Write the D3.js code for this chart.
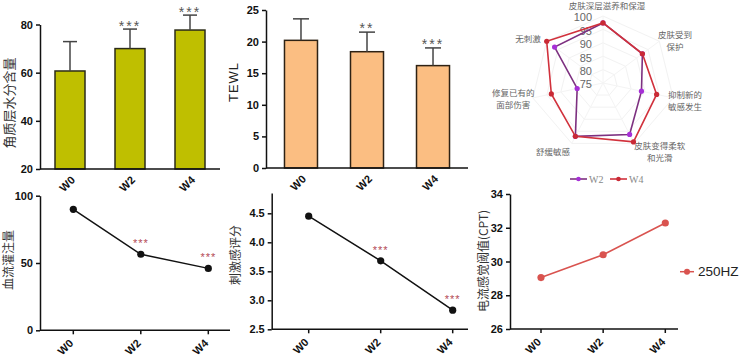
<!DOCTYPE html>
<html><head><meta charset="utf-8">
<script src="https://cdn.jsdelivr.net/npm/d3@7"></script>
<style>
body{margin:0;background:#fff;}
svg{display:block;}
.tk text{font-family:"Liberation Sans",Arial,sans-serif;font-weight:bold;font-size:11px;fill:#111;}
.tk path,.tk line{stroke:#111;stroke-width:1.5px;}
.cjk{font-family:"Noto Sans CJK SC",sans-serif;}
</style></head>
<body>
<svg id="c" width="744" height="360"></svg>
<script>
// ---------- data ----------
const weeks = ["W0","W2","W4"];
// panel 1: stratum corneum moisture
const moistMean = [60.7, 70.0, 77.7];
const moistErr  = [12.2, 8.1, 6.2];
const moistSig  = ["", "***", "***"];
const moistTicks = [20, 40, 60, 80];
// panel 2: TEWL
const tewlMean = [20.2, 18.4, 16.2];
const tewlErr  = [3.4, 3.1, 2.8];
const tewlSig  = ["", "**", "***"];
const tewlTicks = [0, 5, 10, 15, 20, 25];
// panel 3: radar
const radarAxes = ["皮肤深层滋养和保湿", "皮肤受到\n保护", "抑制新的\n敏感发生", "皮肤变得柔软\n和光滑", "舒缓敏感", "修复已有的\n面部伤害", "无刺激"];
const radarW2 = [97.4, 92.5, 88.7, 96.3, 97.1, 84.2, 96.5];
const radarW4 = [97.4, 92.5, 94.1, 99.4, 97.1, 93.4, 100.0];
const radarTicks = [75, 80, 85, 90, 95, 100];
const radarSeries = ["W2", "W4"];
// panel 4: blood perfusion
const flowVals = [89.9, 56.5, 46.0];
const flowSig  = ["", "***", "***"];
const flowTicks = [0, 50, 100];
// panel 5: irritation score
const irrVals = [4.45, 3.68, 2.83];
const irrSig  = ["", "***", "***"];
const irrTicks = [2.5, 3.0, 3.5, 4.0, 4.5];
// panel 6: current perception threshold
const cptVals = [29.05, 30.4, 32.28];
const cptTicks = [26, 28, 30, 32, 34];
const cptSeries = "250HZ";

const svg = d3.select("#c");

function yAxis(g, y, ticks, x0, fmt) {
  const ax = g.append("g").attr("class","tk").attr("transform",`translate(${x0},0)`)
    .call(d3.axisLeft(y).tickValues(ticks).tickSize(4).tickSizeOuter(0).tickFormat(fmt || d3.format("d")));
  ax.select(".domain").attr("stroke-width",1.5);
  return ax;
}
function xLabels(g, xf, yBase, dx, dy, opt) {
  const gg = g.append("g").attr("class","tk");
  gg.append("line").attr("x1", opt.x0).attr("x2", opt.x1).attr("y1", yBase).attr("y2", yBase);
  if (opt.marks) {
    weeks.forEach(w => gg.append("line").attr("x1", xf(w)).attr("x2", xf(w)).attr("y1", yBase).attr("y2", yBase + 4));
  }
  weeks.forEach(w => {
    gg.append("text").attr("text-anchor","end")
      .attr("transform", `translate(${xf(w) + dx},${yBase + dy}) rotate(-45)`)
      .attr("dy","0.35em").text(w);
  });
}
function yTitle(g, txt, x, y, cls, size, fill) {
  g.append("text").attr("class", cls).attr("transform", `translate(${x},${y}) rotate(-90)`)
    .attr("text-anchor","middle").attr("dy","0.35em").attr("font-size", size).attr("fill", fill || "#222").text(txt);
}
function barPanel(opt) {
  const g = svg.append("g");
  const x = d3.scaleBand().domain(weeks).range(opt.xr).paddingInner(0.5).paddingOuter(opt.po);
  const y = d3.scaleLinear().domain(opt.yd).range(opt.yr);
  const xc = d => x(d) + x.bandwidth() / 2;
  g.selectAll("rect").data(weeks).join("rect")
    .attr("x", d => x(d)).attr("width", x.bandwidth())
    .attr("y", (d,i) => y(opt.mean[i])).attr("height", (d,i) => y(opt.yd[0]) - y(opt.mean[i]))
    .attr("fill", opt.fill).attr("stroke", opt.stroke).attr("stroke-width", 1.5);
  weeks.forEach((w,i) => {
    const cx = xc(w), top = y(opt.mean[i] + opt.err[i]);
    g.append("line").attr("x1",cx).attr("x2",cx).attr("y1",y(opt.mean[i])).attr("y2",top).attr("stroke","#444").attr("stroke-width",1.5);
    g.append("line").attr("x1",cx-opt.cap).attr("x2",cx+opt.cap).attr("y1",top).attr("y2",top).attr("stroke","#444").attr("stroke-width",1.5);
    if (opt.sig[i]) g.append("text").attr("x",cx).attr("y",top + opt.sigDy)
      .attr("text-anchor","middle").attr("font-family","Liberation Sans, Arial, sans-serif").attr("font-size",14)
      .attr("letter-spacing","2px").attr("fill","#555").text(opt.sig[i]);
  });
  yAxis(g, y, opt.ticks, opt.xr[0]);
  xLabels(g, xc, opt.yr[0], 3, 9, {x0: opt.xr[0], x1: opt.xr[1], marks: false});
  return g;
}

// ---------- panel 1 ----------
barPanel({xr:[40,220], po:0.25, yd:[20,80], yr:[169,24.5], mean: moistMean, err: moistErr, sig: moistSig,
  ticks: moistTicks, fill:"#bfbf00", stroke:"#2b2b18", cap:7, sigDy: 2});
yTitle(svg, "角质层水分含量", 9, 103, "cjk", 13, "#333");

// ---------- panel 2 ----------
barPanel({xr:[266,468], po:0.28, yd:[0,25], yr:[168,10], mean: tewlMean, err: tewlErr, sig: tewlSig,
  ticks: tewlTicks, fill:"#fbbe82", stroke:"#2e2214", cap:8, sigDy: 1});
svg.append("text").attr("transform","translate(233,82) rotate(-90)").attr("text-anchor","middle").attr("dy","0.35em")
  .attr("font-family","Liberation Sans, Arial, sans-serif").attr("font-size",13).attr("letter-spacing","1px").attr("fill","#222").text("TEWL");

// ---------- panel 3: radar ----------
(function(){
  const g = svg.append("g");
  const cx = 603, cy = 83, rx = 72, ry = 67;
  const r = d3.scaleLinear().domain([75, 100]).range([0, 1]);
  const n = radarAxes.length;
  const ang = i => i * 2 * Math.PI / n;
  const pt = (i, v) => [cx + rx * r(v) * Math.sin(ang(i)), cy - ry * r(v) * Math.cos(ang(i))];
  radarTicks.slice(1).forEach(t => {
    g.append("path").attr("d", d3.line()(d3.range(n).map(i => pt(i, t))) + "Z")
      .attr("fill","none").attr("stroke","#f2f2f2").attr("stroke-width",1);
  });
  d3.range(n).forEach(i => {
    const p = pt(i, 100);
    g.append("line").attr("x1",cx).attr("y1",cy).attr("x2",p[0]).attr("y2",p[1]).attr("stroke","#f4f4f4");
  });
  radarTicks.forEach(t => g.append("text").attr("x", cx - 11).attr("y", cy - ry * r(t) + 1.5).attr("dy","0.35em")
    .attr("text-anchor","end").attr("font-family","Liberation Sans, Arial, sans-serif").attr("font-size",11).attr("fill","#666").text(t));
  const colors = {W2: {line:"#7d3080", dot:"#a62fd6"}, W4: {line:"#d1313c", dot:"#c92a35"}};
  [["W2", radarW2], ["W4", radarW4]].forEach(([name, vals]) => {
    const pts = vals.map((v,i) => pt(i, v));
    g.append("path").attr("d", d3.line()(pts) + "Z").attr("fill","none")
      .attr("stroke", colors[name].line).attr("stroke-width", 1.6);
    pts.forEach(p => g.append("circle").attr("cx",p[0]).attr("cy",p[1]).attr("r",2.6).attr("fill",colors[name].dot));
  });
  // axis labels (label radius factors along x and y)
  const kx = [0, 1.28, 1.17, 1.82, 1.6, 1.28, 1.33];
  const ky = [1.15, 1.0, 1.2, 1.14, 1.14, 1.07, 1.05];
  const lh = 11.5;
  radarAxes.forEach((lab, i) => {
    const lx = cx + 4 * (i === 0) + rx * kx[i] * Math.sin(ang(i));
    const ly = cy - ry * ky[i] * Math.cos(ang(i));
    const lines = lab.split("\n");
    const y0 = ly - (lines.length - 1) * lh / 2;
    lines.forEach((s, j) => g.append("text").attr("class","cjk").attr("text-anchor","middle")
      .attr("font-size",8.5).attr("fill","#666").attr("x", lx).attr("y", y0 + j * lh).attr("dy","0.35em").text(s));
  });
  radarSeries.forEach((name, j) => {
    const lx = 570 + j * 40, ly = 179;
    g.append("line").attr("x1",lx).attr("x2",lx+17).attr("y1",ly).attr("y2",ly).attr("stroke",colors[name].line).attr("stroke-width",1.6);
    g.append("circle").attr("cx",lx+8.5).attr("cy",ly).attr("r",2.3).attr("fill",colors[name].dot);
    g.append("text").attr("x",lx+19).attr("y",ly).attr("dy","0.35em").attr("font-family","Liberation Serif, serif")
      .attr("font-size",10).attr("fill","#888").text(name);
  });
})();

// ---------- line panels ----------
function linePanel(opt) {
  const g = svg.append("g");
  const x = d3.scalePoint().domain(weeks).range(opt.xr);
  const y = d3.scaleLinear().domain(opt.yd).range(opt.yr);
  yAxis(g, y, opt.ticks, opt.ax0, opt.fmt);
  xLabels(g, x, opt.yr[0], -2, 11, {x0: opt.ax0, x1: opt.ax1, marks: true});
  g.append("path").datum(opt.vals).attr("fill","none").attr("stroke",opt.color).attr("stroke-width",1.5)
    .attr("d", d3.line().x((d,i) => x(weeks[i])).y(d => y(d)));
  g.selectAll("circle.pt").data(opt.vals).join("circle").attr("class","pt")
    .attr("cx",(d,i) => x(weeks[i])).attr("cy", d => y(d)).attr("r", 3.6).attr("fill", opt.color);
  if (opt.sig) opt.sig.forEach((s,i) => { if (s) g.append("text").attr("x", x(weeks[i])).attr("y", y(opt.vals[i]) - 7)
    .attr("text-anchor","middle").attr("font-family","Liberation Sans, Arial, sans-serif").attr("font-size",11).attr("letter-spacing","1px").attr("fill","#b44a55").text(s); });
  return {g, x, y};
}
linePanel({xr:[73.3, 208.3], yd:[0,100], yr:[330.3, 195.7], ticks: flowTicks, ax0:40, ax1:230, vals: flowVals, sig: flowSig, color:"#111"});
yTitle(svg, "血流灌注量", 9, 260, "cjk", 12, "#333");
linePanel({xr:[308.7, 452.7], yd:[2.5,4.85], yr:[329.3, 193], ticks: irrTicks, ax0:271.7, ax1:468, vals: irrVals, sig: irrSig, color:"#111", fmt: d3.format(".1f")});
yTitle(svg, "刺激感评分", 236, 255, "cjk", 12, "#333");
(function(){
  const p = linePanel({xr:[541, 665.3], yd:[26,34], yr:[329, 194], ticks: cptTicks, ax0:510, ax1:678, vals: cptVals, color:"#d9534f"});
  const ly = 271.7;
  p.g.append("line").attr("x1",680).attr("x2",694).attr("y1",ly).attr("y2",ly).attr("stroke","#d9534f").attr("stroke-width",1.5);
  p.g.append("circle").attr("cx",687).attr("cy",ly).attr("r",3).attr("fill","#d9534f");
  p.g.append("text").attr("x",698).attr("y",ly).attr("dy","0.35em").attr("font-family","Liberation Sans, Arial, sans-serif")
    .attr("font-size",13.5).attr("fill","#222").text(cptSeries);
})();
yTitle(svg, "电流感觉阈值(CPT)", 484, 261, "cjk", 12, "#333");
</script>
</body></html>
